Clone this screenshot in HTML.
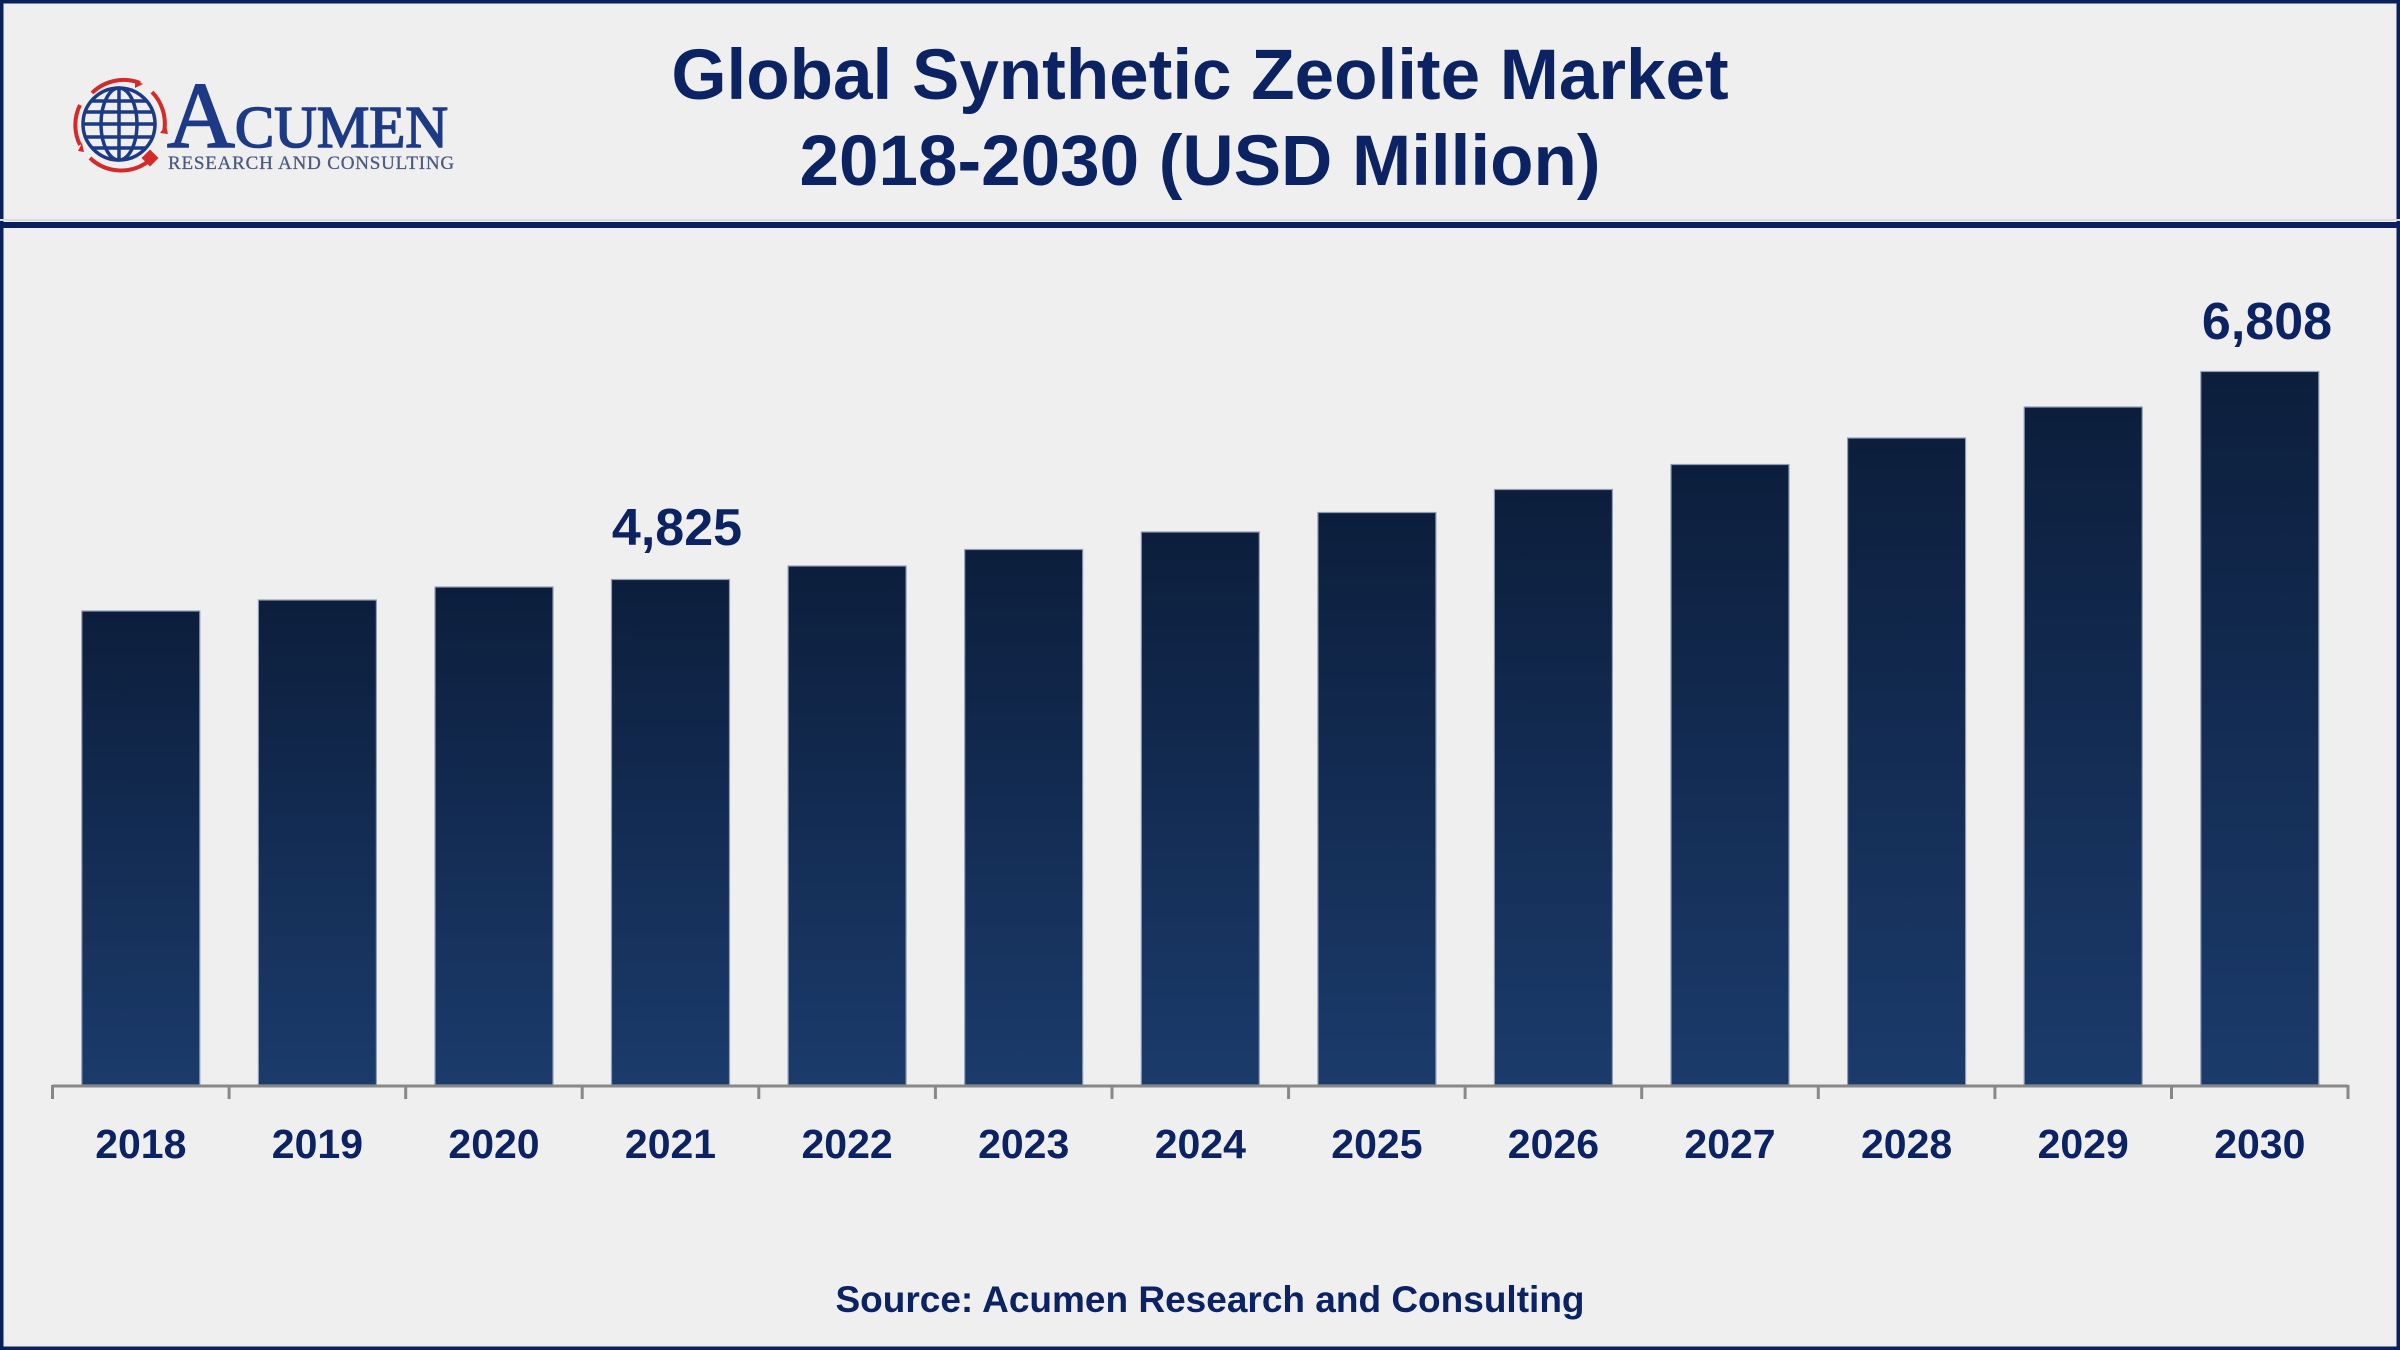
<!DOCTYPE html>
<html>
<head>
<meta charset="utf-8">
<style>
html,body{margin:0;padding:0;background:#efefef;}
body{width:2400px;height:1350px;overflow:hidden;}
svg{display:block;}
</style>
</head>
<body>
<svg width="2400" height="1350" viewBox="0 0 2400 1350" xmlns="http://www.w3.org/2000/svg">
  <defs>
    <linearGradient id="bg" x1="0" y1="0" x2="0" y2="1">
      <stop offset="0" stop-color="#0c1e3c"/>
      <stop offset="1" stop-color="#1b3b6b"/>
    </linearGradient>
  </defs>
  <rect x="0" y="0" width="2400" height="1350" fill="#efefef"/>
  <!-- outer border -->
  <rect x="1.5" y="1.5" width="2397" height="1347" fill="none" stroke="#0a1f5c" stroke-width="4"/>
  <!-- header separator -->
  <rect x="0" y="219" width="2400" height="2" fill="#d6dbe6"/>
  <rect x="0" y="222" width="2400" height="6" fill="#0a1f5c"/>

  <!-- logo -->
  <g>
    <g fill="none" stroke="#d42a2a" stroke-width="4">
      <path d="M 92 93 A 45 45 0 0 1 140 83"/>
      <path d="M 152 92 A 45 45 0 0 1 164 132"/>
      <path d="M 150 160 A 45 45 0 0 1 90 158"/>
      <path d="M 80 145 A 45 45 0 0 1 80 105"/>
    </g>
    <polygon points="135,80 143,84 135,88" fill="#d42a2a"/>
    <polygon points="160,133 166,125 168,134" fill="#d42a2a"/>
    <polygon points="84,152 82,143 78,151" fill="#d42a2a"/>
    <g fill="none" stroke="#1c3a85" stroke-width="3.5">
      <circle cx="119" cy="124" r="36"/>
      <ellipse cx="119" cy="124" rx="18" ry="36"/>
      <line x1="119" y1="88" x2="119" y2="160"/>
      <line x1="85" y1="112" x2="153" y2="112"/>
      <line x1="83" y1="124" x2="155" y2="124"/>
      <line x1="85" y1="137" x2="153" y2="137"/>
      <line x1="92" y1="101" x2="146" y2="101"/>
      <line x1="92" y1="148" x2="146" y2="148"/>
    </g>
    <rect x="144" y="152" width="12" height="12" fill="#d42a2a" transform="rotate(45 150 158)"/>
    <text x="167" y="147" font-family="'Liberation Serif', serif" fill="#1c3a85" stroke="#1c3a85" stroke-width="1.6"><tspan font-size="94">A</tspan><tspan font-size="59">CUMEN</tspan></text>
    <text x="168" y="169" font-family="'Liberation Serif', serif" font-size="19" fill="#4a5a82" stroke="#4a5a82" stroke-width="0.3" letter-spacing="0.8">RESEARCH AND CONSULTING</text>
  </g>

  <!-- title -->
  <g font-family="'Liberation Sans', Arial, sans-serif" font-weight="bold" fill="#0b2263" text-anchor="middle">
    <text x="1200" y="99" font-size="71">Global Synthetic Zeolite Market</text>
    <text x="1200" y="185" font-size="71">2018-2030 (USD Million)</text>
  </g>

  <!-- bars -->
  <g fill="url(#bg)" stroke="#8f9db5" stroke-width="1.2">
    <rect x="81.8" y="611" width="118" height="474"/>
    <rect x="258.4" y="600" width="118" height="485"/>
    <rect x="435.0" y="587" width="118" height="498"/>
    <rect x="611.5" y="579.5" width="118" height="505.5"/>
    <rect x="788.1" y="566" width="118" height="519"/>
    <rect x="964.7" y="549.5" width="118" height="535.5"/>
    <rect x="1141.3" y="532" width="118" height="553"/>
    <rect x="1317.9" y="512.5" width="118" height="572.5"/>
    <rect x="1494.4" y="489.5" width="118" height="595.5"/>
    <rect x="1671.0" y="464.5" width="118" height="620.5"/>
    <rect x="1847.6" y="438" width="118" height="647"/>
    <rect x="2024.2" y="407" width="118" height="678"/>
    <rect x="2200.8" y="371.5" width="118" height="713.5"/>
  </g>

  <!-- axis -->
  <g stroke="#888888" stroke-width="3">
    <line x1="52.5" y1="1086" x2="2348" y2="1086"/>
    <line x1="52.5" y1="1085" x2="52.5" y2="1099"/>
    <line x1="229.1" y1="1085" x2="229.1" y2="1099"/>
    <line x1="405.7" y1="1085" x2="405.7" y2="1099"/>
    <line x1="582.2" y1="1085" x2="582.2" y2="1099"/>
    <line x1="758.8" y1="1085" x2="758.8" y2="1099"/>
    <line x1="935.4" y1="1085" x2="935.4" y2="1099"/>
    <line x1="1112.0" y1="1085" x2="1112.0" y2="1099"/>
    <line x1="1288.6" y1="1085" x2="1288.6" y2="1099"/>
    <line x1="1465.1" y1="1085" x2="1465.1" y2="1099"/>
    <line x1="1641.7" y1="1085" x2="1641.7" y2="1099"/>
    <line x1="1818.3" y1="1085" x2="1818.3" y2="1099"/>
    <line x1="1994.9" y1="1085" x2="1994.9" y2="1099"/>
    <line x1="2171.5" y1="1085" x2="2171.5" y2="1099"/>
    <line x1="2348" y1="1085" x2="2348" y2="1099"/>
  </g>

  <!-- year labels -->
  <g font-family="'Liberation Sans', Arial, sans-serif" font-weight="bold" font-size="41" fill="#0b2263" text-anchor="middle">
    <text x="140.8" y="1158">2018</text>
    <text x="317.4" y="1158">2019</text>
    <text x="494.0" y="1158">2020</text>
    <text x="670.5" y="1158">2021</text>
    <text x="847.1" y="1158">2022</text>
    <text x="1023.7" y="1158">2023</text>
    <text x="1200.3" y="1158">2024</text>
    <text x="1376.9" y="1158">2025</text>
    <text x="1553.4" y="1158">2026</text>
    <text x="1730.0" y="1158">2027</text>
    <text x="1906.6" y="1158">2028</text>
    <text x="2083.2" y="1158">2029</text>
    <text x="2259.8" y="1158">2030</text>
  </g>

  <!-- value labels -->
  <g font-family="'Liberation Sans', Arial, sans-serif" font-weight="bold" font-size="52" fill="#0b2263" text-anchor="middle">
    <text x="677" y="545">4,825</text>
    <text x="2267" y="339">6,808</text>
  </g>

  <!-- source -->
  <text x="1210" y="1312" font-family="'Liberation Sans', Arial, sans-serif" font-weight="bold" font-size="37" fill="#0b2263" text-anchor="middle">Source: Acumen Research and Consulting</text>
</svg>
</body>
</html>
